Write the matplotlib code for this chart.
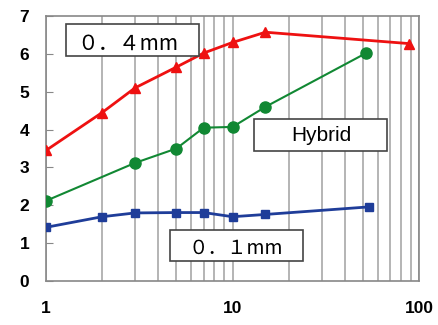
import numpy as np
import matplotlib.pyplot as plt
from matplotlib.patches import Rectangle

# data
x_04 = [1, 2, 3, 5, 7, 10, 15, 88]
y_04 = [3.45, 4.45, 5.1, 5.65, 6.02, 6.3, 6.57, 6.27]

x_hyb = [1, 3, 5, 7, 10, 15, 52]
y_hyb = [2.12, 3.12, 3.5, 4.05, 4.07, 4.6, 6.02]

x_01 = [1, 2, 3, 5, 7, 10, 15, 54]
y_01 = [1.42, 1.7, 1.8, 1.81, 1.81, 1.7, 1.76, 1.96]

W, H = 438, 325
fig = plt.figure(figsize=(W / 100, H / 100), dpi=100)
ax = fig.add_axes([0.105, 0.135, 0.852, 0.816])

ax.plot(x_04, y_04, color='#ee1111', lw=2, marker='^', ms=7, zorder=3)
ax.plot(x_hyb, y_hyb, color='#118833', lw=1.5, marker='o', ms=8, zorder=3)
ax.plot(x_01, y_01, color='#1f3d99', lw=2, marker='s', ms=6, zorder=3)

ax.set_xscale('log')
ax.set_xlim(1, 100)
ax.set_ylim(0, 7)
ax.set_yticks(range(8))
ax.set_xticks([1, 10, 100])
ax.set_xticklabels(['1', '10', '100'])
ax.xaxis.grid(True, which='both', color='#a0a0a0', lw=1.1)
ax.tick_params(axis='x', which='both', length=0, pad=14, labelsize=12.5)
ax.tick_params(axis='y', direction='in', length=5, color='#888888', pad=12, labelsize=12.5)
for lab in ax.get_xticklabels() + ax.get_yticklabels():
    lab.set_fontweight('bold')
    lab.set_family('Liberation Sans')
for s in ax.spines.values():
    s.set_color('#888888')
    s.set_linewidth(1.2)


# labelled boxes, given in pixel coords from top-left
def label_box(x0, y0, x1, y1, text, tx, ty, **kw):
    fig.patches.append(Rectangle((x0 / W, 1 - y1 / H), (x1 - x0) / W, (y1 - y0) / H,
                                 transform=fig.transFigure, fc='white', ec='#444444',
                                 lw=1.2, zorder=5))
    fig.text(tx / W, 1 - ty / H, text, ha='center', va='center', zorder=6, **kw)


jp = ['Noto Sans CJK JP', 'DejaVu Sans']
label_box(66, 24, 199, 56, '０．４mm', 128, 44, fontsize=15, family=jp)
label_box(254, 119, 387, 151, 'Hybrid', 321, 135, fontsize=15, family='Liberation Sans')
label_box(170, 230, 303, 261, '０．１mm', 236, 248, fontsize=14, family=jp)

fig.savefig('out.png', dpi=100)
